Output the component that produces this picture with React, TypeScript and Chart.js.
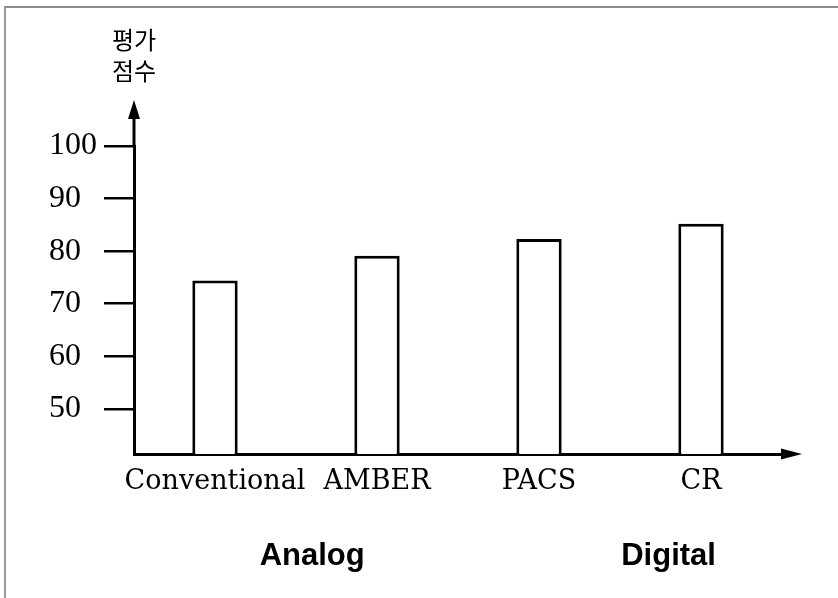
import React, { useEffect, useRef } from "react";
import { Chart, registerables } from "chart.js";

Chart.register(...registerables);

const categories = ["Conventional", "AMBER", "PACS", "CR"];
const scores = [74.4, 79.1, 82.3, 85.2];
const yTicks = [50, 60, 70, 80, 90, 100];
const yAxisMin = 41.4;
const yAxisMax = 100;
const yTitleLines = ["평가", "점수"];
const groupLabels = ["Analog", "Digital"];
const groupPositions = [0.6, 2.8];

const decorPlugin = {
  id: "decor",
  afterDraw(chart: any) {
    const { ctx, chartArea } = chart;
    const xs = chart.scales.x;
    const ax = chartArea.left;
    const top = chartArea.top;
    const by = chartArea.bottom;
    ctx.save();
    ctx.fillStyle = "#000";
    ctx.strokeStyle = "#000";
    ctx.lineWidth = 3;
    // y axis extension + arrowhead
    ctx.beginPath();
    ctx.moveTo(ax, top + 1);
    ctx.lineTo(ax, top - 30);
    ctx.stroke();
    ctx.beginPath();
    ctx.moveTo(ax, top - 46);
    ctx.lineTo(ax - 6, top - 27);
    ctx.lineTo(ax + 6, top - 27);
    ctx.closePath();
    ctx.fill();
    // x axis arrowhead
    ctx.beginPath();
    ctx.moveTo(chartArea.right - 1, by - 5.5);
    ctx.lineTo(chartArea.right + 20, by);
    ctx.lineTo(chartArea.right - 1, by + 5.5);
    ctx.closePath();
    ctx.fill();
    // y title
    ctx.font = "24px 'Noto Sans CJK KR'";
    ctx.textAlign = "center";
    ctx.textBaseline = "middle";
    yTitleLines.forEach((t, i) => ctx.fillText(t, ax, top - 106 + i * 31));
    // group labels
    ctx.font = "bold 31px 'Liberation Sans'";
    ctx.textBaseline = "alphabetic";
    groupLabels.forEach((t, i) => {
      ctx.fillText(t, xs.getPixelForValue(groupPositions[i]), by + 111);
    });
    ctx.restore();
  },
};

export default function App() {
  const ref = useRef<HTMLCanvasElement | null>(null);
  useEffect(() => {
    if (!ref.current) return;
    const chart = new Chart(ref.current, {
      type: "bar",
      data: {
        labels: categories,
        datasets: [
          {
            data: scores,
            backgroundColor: "#ffffff",
            borderColor: "#000000",
            borderWidth: 3,
            barPercentage: 0.28,
            categoryPercentage: 1,
          },
        ],
      },
      options: {
        animation: false,
        responsive: true,
        maintainAspectRatio: false,
        layout: { padding: { left: 49, right: 56, top: 146, bottom: 0 } },
        plugins: {
          legend: { display: false },
          tooltip: { enabled: false },
          title: { display: false },
        },
        scales: {
          x: {
            type: "category",
            grid: { display: false },
            border: { display: true, color: "#000", width: 3 },
            ticks: {
              color: "#000",
              font: { family: "'DejaVu Serif'", size: 27 },
              padding: 4,
              maxRotation: 0,
              autoSkip: false,
            },
            afterFit(s: any) {
              s.height = 144;
            },
          },
          y: {
            type: "linear",
            min: yAxisMin,
            max: yAxisMax,
            afterBuildTicks(s: any) {
              s.ticks = yTicks.map((v) => ({ value: v }));
            },
            grid: {
              display: true,
              drawOnChartArea: false,
              drawTicks: true,
              tickLength: 30,
              color: "#000",
              lineWidth: 2.5,
            },
            border: { display: true, color: "#000", width: 3 },
            ticks: {
              crossAlign: "far",
              color: "#000",
              font: { family: "'Liberation Serif'", size: 32 },
              padding: 5,
            },
            afterFit(s: any) {
              s.width = 85;
            },
          },
        },
      },
      plugins: [decorPlugin],
    } as any);
    return () => chart.destroy();
  }, []);
  return (
    <div style={{ position: "absolute", left: 0, top: 0, width: 838, height: 598, background: "#fff" }}>
      <div
        style={{
          position: "absolute",
          left: 4,
          top: 6,
          right: 0,
          bottom: 0,
          borderTop: "2px solid #8a8a8a",
          borderLeft: "2px solid #9a9a9a",
          pointerEvents: "none",
        }}
      />
      <canvas ref={ref} style={{ position: "absolute", left: 0, top: 0 }} />
    </div>
  );
}
